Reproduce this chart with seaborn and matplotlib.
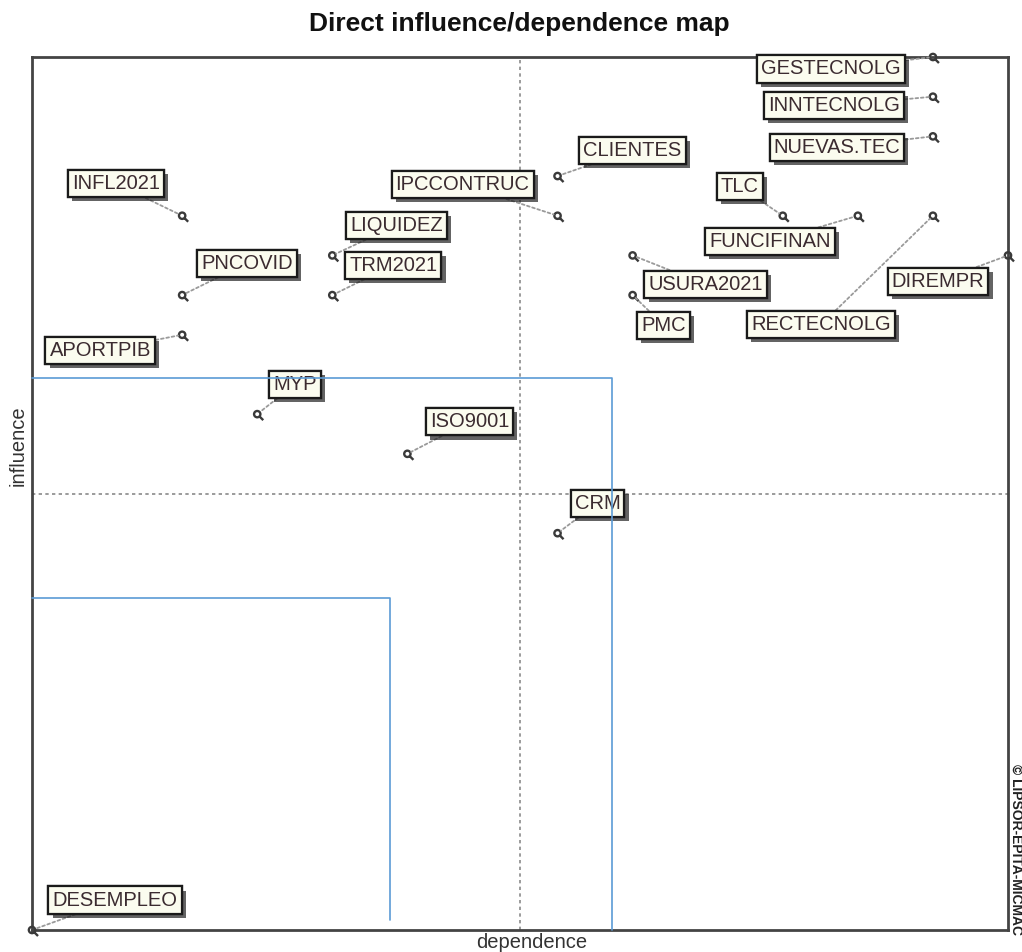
"""
Direct influence/dependence map (MICMAC style) redrawn with seaborn/matplotlib.
"""
import matplotlib
matplotlib.use("Agg")
import matplotlib.pyplot as plt
import matplotlib.patheffects as pe
from matplotlib.path import Path
import seaborn as sns
import pandas as pd

sns.set_theme(style="white")
plt.rcParams["font.family"] = ["Liberation Sans", "DejaVu Sans"]

# variables, dependence (x) and influence (y)
variables = ["GESTECNOLG", "INNTECNOLG", "NUEVAS.TEC", "CLIENTES", "IPCCONTRUC",
             "INFL2021", "LIQUIDEZ", "TRM2021", "PNCOVID", "APORTPIB",
             "TLC", "FUNCIFINAN", "DIREMPR", "RECTECNOLG", "USURA2021",
             "PMC", "MYP", "ISO9001", "CRM", "DESEMPLEO"]
dependence = [12, 12, 12, 7, 7, 2, 4, 4, 2, 2, 10, 11, 13, 12, 8, 8, 3, 5, 7, 0]
influence = [22, 21, 20, 19, 18, 18, 17, 16, 16, 15, 18, 18, 17, 18, 17, 16, 13, 12, 10, 0]

# label offsets from each point, in pixels (x right, y up)
label_offsets = {
    "GESTECNOLG": (-102, -12), "INNTECNOLG": (-99, -9), "NUEVAS.TEC": (-96, -11),
    "CLIENTES": (75, 26), "IPCCONTRUC": (-95, 31), "INFL2021": (-66, 32),
    "LIQUIDEZ": (64, 30), "TRM2021": (61, 30), "PNCOVID": (65, 32),
    "APORTPIB": (-82, -16), "TLC": (-43, 29), "FUNCIFINAN": (-88, -26),
    "DIREMPR": (-70, -26), "RECTECNOLG": (-112, -109), "USURA2021": (73, -29),
    "PMC": (31, -30), "MYP": (38, 30), "ISO9001": (62, 32), "CRM": (40, 30),
    "DESEMPLEO": (83, 30),
}

# hand-drawn blue frames on the original picture
frame1_x = [0, 7.73, 7.73]
frame1_y = [13.9, 13.9, 0]
frame2_x = [0, 4.77, 4.77]
frame2_y = [8.37, 8.37, 0.25]

df = pd.DataFrame({"variable": variables, "dependence": dependence, "influence": influence})

# key-like marker: small ring with a short tail
ring = Path.unit_circle()
tail = Path([(0.7, -0.7), (1.9, -1.9)], [Path.MOVETO, Path.LINETO])
key_marker = Path.make_compound_path(ring, tail)

fig = plt.figure(figsize=(10.22, 9.52), dpi=100)
ax = fig.add_axes([32 / 1022, 22 / 952, 976 / 1022, 873 / 952])

x_max, y_max = 13, 22
ax.set_xlim(0, x_max)
ax.set_ylim(0, y_max)

ax.axvline(x_max / 2, color="#8a8a8a", ls=(0, (2, 2)), lw=1.2, zorder=1)
ax.axhline(y_max / 2, color="#8a8a8a", ls=(0, (2, 2)), lw=1.2, zorder=1)

sns.scatterplot(data=df, x="dependence", y="influence", marker=key_marker, s=75,
                facecolor="none", edgecolor="#3a3a3a", linewidth=1.7, ax=ax,
                zorder=4, clip_on=False, legend=False)

for name, dx, dy in zip(df["variable"], df["dependence"], df["influence"]):
    ox, oy = label_offsets[name]
    ann = ax.annotate(name, (dx, dy), xytext=(ox, oy), textcoords="offset pixels",
                      ha="center", va="center", fontsize=14.5, color="#3b2b30",
                      bbox=dict(boxstyle="square,pad=0.2", fc="#fbfcef", ec="#1a1a1a", lw=1.6),
                      arrowprops=dict(arrowstyle="-", color="#9a9a9a", lw=1.3,
                                      ls=(0, (1.5, 1.5)), shrinkA=0, shrinkB=3),
                      zorder=5, annotation_clip=False)
    ann.get_bbox_patch().set_path_effects([
        pe.withSimplePatchShadow(offset=(3, -3), shadow_rgbFace="#222222", alpha=0.7),
        pe.Normal()])

ax.plot(frame1_x, frame1_y, color="#5b9bd5", lw=1.2, zorder=6, clip_on=False)
ax.plot(frame2_x, frame2_y, color="#5b9bd5", lw=1.2, zorder=6, clip_on=False)

for side in ax.spines.values():
    side.set_color("#444444")
    side.set_linewidth(2)
ax.set_xticks([])
ax.set_yticks([])
ax.set_xlabel("")
ax.set_ylabel("")

fig.text(532 / 1022, 1 - 942 / 952, "dependence", ha="center", va="center",
         fontsize=14.5, color="#333333")
fig.text(18 / 1022, 1 - 446 / 952, "influence", ha="center", va="center",
         rotation=90, fontsize=14.5, color="#333333")
fig.text(519 / 1022, 1 - 24 / 952, "Direct influence/dependence map", ha="center",
         va="center", fontsize=19, fontweight="bold", color="#111111")
fig.text(1016 / 1022, 1 - 850 / 952, "© LIPSOR-EPITA-MICMAC", ha="center", va="center",
         rotation=-90, fontsize=10, fontweight="bold", color="#222222")

fig.savefig("out.png", dpi=100)
plt.close(fig)
